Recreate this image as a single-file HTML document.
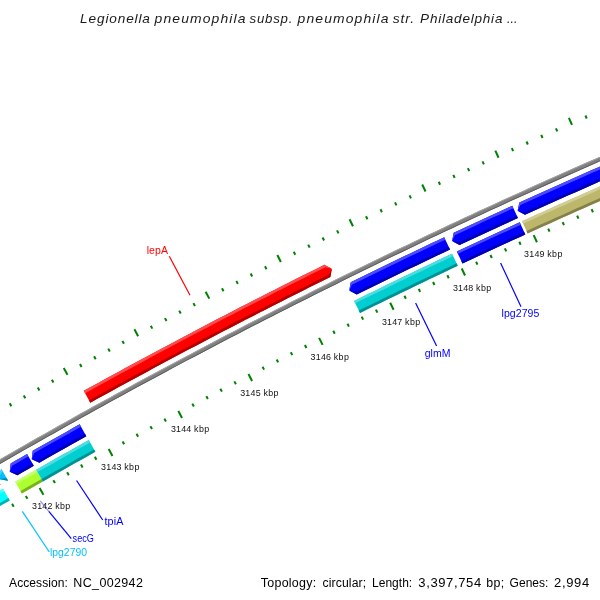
<!DOCTYPE html>
<html><head><meta charset="utf-8"><title>CGView</title>
<style>html,body{margin:0;padding:0;background:#fff}svg{display:block;will-change:transform}text{font-family:"Liberation Sans",sans-serif}</style>
</head><body>
<svg width="600" height="600" viewBox="0 0 600 600">
<rect width="600" height="600" fill="#fff"/>
<path d="M-31.04 477.17 L-24.14 473.15 L-17.23 469.13 L-10.32 465.12 L-3.40 461.12 L3.53 457.13 L10.46 453.16 L17.39 449.18 L24.33 445.22 L31.28 441.27 L38.23 437.33 L45.19 433.39 L52.15 429.47 L59.11 425.55 L66.09 421.65 L73.06 417.75 L80.05 413.86 L87.03 409.98 L94.03 406.12 L101.02 402.26 L108.03 398.41 L115.03 394.56 L122.05 390.73 L129.07 386.91 L136.09 383.10 L143.12 379.29 L150.15 375.50 L157.19 371.71 L164.23 367.93 L171.28 364.17 L178.33 360.41 L185.39 356.66 L192.45 352.92 L199.52 349.19 L206.59 345.47 L213.67 341.76 L220.75 338.06 L227.84 334.37 L234.93 330.69 L242.03 327.01 L249.13 323.35 L256.24 319.69 L263.35 316.05 L270.47 312.41 L277.59 308.79 L284.72 305.17 L291.85 301.56 L298.99 297.97 L306.13 294.38 L313.27 290.80 L320.42 287.23 L327.58 283.67 L334.74 280.12 L341.90 276.58 L349.07 273.05 L356.24 269.52 L363.42 266.01 L370.60 262.51 L377.79 259.02 L384.98 255.53 L392.18 252.06 L399.38 248.59 L406.59 245.14 L413.80 241.69 L421.01 238.25 L428.23 234.83 L435.46 231.41 L442.69 228.00 L449.92 224.60 L457.16 221.22 L464.40 217.84 L471.65 214.47 L478.90 211.11 L486.15 207.76 L493.41 204.42 L500.68 201.09 L507.95 197.77 L515.22 194.45 L522.50 191.15 L529.78 187.86 L537.06 184.58 L544.36 181.30 L551.65 178.04 L558.95 174.79 L566.25 171.54 L573.56 168.31 L580.87 165.08 L588.19 161.87 L595.51 158.66 L602.84 155.47 L604.51 159.32 L597.19 162.51 L589.88 165.72 L582.57 168.93 L575.26 172.15 L567.96 175.38 L560.66 178.63 L553.36 181.88 L546.07 185.14 L538.79 188.41 L531.51 191.69 L524.23 194.98 L516.96 198.28 L509.69 201.59 L502.43 204.91 L495.17 208.23 L487.91 211.57 L480.66 214.92 L473.41 218.28 L466.17 221.64 L458.94 225.02 L451.70 228.41 L444.47 231.80 L437.25 235.21 L430.03 238.62 L422.82 242.05 L415.61 245.48 L408.40 248.92 L401.20 252.38 L394.00 255.84 L386.81 259.31 L379.63 262.79 L372.44 266.28 L365.26 269.79 L358.09 273.30 L350.92 276.82 L343.76 280.34 L336.60 283.88 L329.44 287.43 L322.29 290.99 L315.15 294.56 L308.01 298.13 L300.87 301.72 L293.74 305.31 L286.62 308.92 L279.50 312.53 L272.38 316.16 L265.27 319.79 L258.16 323.43 L251.06 327.08 L243.96 330.74 L236.87 334.42 L229.78 338.10 L222.70 341.78 L215.62 345.48 L208.55 349.19 L201.48 352.91 L194.42 356.64 L187.36 360.37 L180.30 364.12 L173.26 367.87 L166.21 371.64 L159.17 375.41 L152.14 379.19 L145.11 382.99 L138.09 386.79 L131.07 390.60 L124.06 394.42 L117.05 398.25 L110.05 402.09 L103.05 405.93 L96.06 409.79 L89.07 413.66 L82.09 417.53 L75.11 421.42 L68.14 425.31 L61.17 429.22 L54.21 433.13 L47.25 437.05 L40.30 440.98 L33.35 444.92 L26.41 448.87 L19.48 452.83 L12.55 456.80 L5.62 460.78 L-1.30 464.76 L-8.21 468.76 L-15.12 472.76 L-22.03 476.78 L-28.93 480.80Z" fill="rgb(128,128,128)" />
<path d="M-31.04 477.17 L-24.14 473.15 L-17.23 469.13 L-10.32 465.12 L-3.40 461.12 L3.53 457.13 L10.46 453.16 L17.39 449.18 L24.33 445.22 L31.28 441.27 L38.23 437.33 L45.19 433.39 L52.15 429.47 L59.11 425.55 L66.09 421.65 L73.06 417.75 L80.05 413.86 L87.03 409.98 L94.03 406.12 L101.02 402.26 L108.03 398.41 L115.03 394.56 L122.05 390.73 L129.07 386.91 L136.09 383.10 L143.12 379.29 L150.15 375.50 L157.19 371.71 L164.23 367.93 L171.28 364.17 L178.33 360.41 L185.39 356.66 L192.45 352.92 L199.52 349.19 L206.59 345.47 L213.67 341.76 L220.75 338.06 L227.84 334.37 L234.93 330.69 L242.03 327.01 L249.13 323.35 L256.24 319.69 L263.35 316.05 L270.47 312.41 L277.59 308.79 L284.72 305.17 L291.85 301.56 L298.99 297.97 L306.13 294.38 L313.27 290.80 L320.42 287.23 L327.58 283.67 L334.74 280.12 L341.90 276.58 L349.07 273.05 L356.24 269.52 L363.42 266.01 L370.60 262.51 L377.79 259.02 L384.98 255.53 L392.18 252.06 L399.38 248.59 L406.59 245.14 L413.80 241.69 L421.01 238.25 L428.23 234.83 L435.46 231.41 L442.69 228.00 L449.92 224.60 L457.16 221.22 L464.40 217.84 L471.65 214.47 L478.90 211.11 L486.15 207.76 L493.41 204.42 L500.68 201.09 L507.95 197.77 L515.22 194.45 L522.50 191.15 L529.78 187.86 L537.06 184.58 L544.36 181.30 L551.65 178.04 L558.95 174.79 L566.25 171.54 L573.56 168.31 L580.87 165.08 L588.19 161.87 L595.51 158.66 L602.84 155.47 L603.17 156.24 L595.85 159.43 L588.53 162.64 L581.21 165.85 L573.90 169.08 L566.59 172.31 L559.29 175.56 L551.99 178.81 L544.70 182.07 L537.41 185.34 L530.12 188.63 L522.84 191.92 L515.57 195.22 L508.29 198.53 L501.03 201.85 L493.76 205.18 L486.50 208.52 L479.25 211.87 L472.00 215.23 L464.75 218.60 L457.51 221.98 L450.28 225.37 L443.04 228.76 L435.82 232.17 L428.59 235.59 L421.37 239.01 L414.16 242.45 L406.95 245.89 L399.75 249.35 L392.55 252.81 L385.35 256.29 L378.16 259.77 L370.97 263.26 L363.79 266.77 L356.61 270.28 L349.44 273.80 L342.27 277.33 L335.11 280.87 L327.95 284.42 L320.80 287.98 L313.65 291.55 L306.50 295.13 L299.36 298.72 L292.23 302.31 L285.10 305.92 L277.97 309.54 L270.85 313.16 L263.74 316.80 L256.63 320.44 L249.52 324.10 L242.42 327.76 L235.32 331.43 L228.23 335.11 L221.14 338.81 L214.06 342.51 L206.98 346.22 L199.91 349.94 L192.85 353.67 L185.78 357.40 L178.73 361.15 L171.67 364.91 L164.63 368.67 L157.58 372.45 L150.55 376.24 L143.52 380.03 L136.49 383.83 L129.47 387.65 L122.45 391.47 L115.44 395.30 L108.43 399.14 L101.43 402.99 L94.43 406.85 L87.44 410.72 L80.45 414.60 L73.47 418.48 L66.50 422.38 L59.53 426.29 L52.56 430.20 L45.60 434.13 L38.64 438.06 L31.69 442.00 L24.75 445.95 L17.81 449.91 L10.87 453.88 L3.95 457.86 L-2.98 461.85 L-9.90 465.85 L-16.81 469.86 L-23.72 473.87 L-30.62 477.90Z" fill="rgb(166,166,166)" />
<path d="M-29.35 480.07 L-22.45 476.05 L-15.55 472.04 L-8.63 468.03 L-1.72 464.03 L5.20 460.05 L12.13 456.07 L19.06 452.10 L26.00 448.14 L32.94 444.19 L39.89 440.25 L46.84 436.32 L53.80 432.40 L60.76 428.48 L67.73 424.58 L74.70 420.69 L81.68 416.80 L88.66 412.92 L95.65 409.06 L102.64 405.20 L109.64 401.35 L116.65 397.51 L123.66 393.68 L130.67 389.86 L137.69 386.05 L144.71 382.25 L151.74 378.45 L158.78 374.67 L165.82 370.90 L172.86 367.13 L179.91 363.38 L186.96 359.63 L194.02 355.89 L201.09 352.17 L208.16 348.45 L215.23 344.74 L222.31 341.04 L229.39 337.35 L236.48 333.67 L243.57 330.00 L250.67 326.34 L257.78 322.68 L264.88 319.04 L272.00 315.41 L279.11 311.78 L286.24 308.17 L293.36 304.56 L300.50 300.97 L307.63 297.38 L314.77 293.80 L321.92 290.24 L329.07 286.68 L336.23 283.13 L343.39 279.59 L350.55 276.06 L357.72 272.54 L364.90 269.03 L372.07 265.53 L379.26 262.04 L386.45 258.56 L393.64 255.08 L400.84 251.62 L408.04 248.17 L415.25 244.72 L422.46 241.29 L429.67 237.86 L436.89 234.45 L444.12 231.04 L451.35 227.65 L458.58 224.26 L465.82 220.88 L473.06 217.52 L480.31 214.16 L487.56 210.81 L494.82 207.47 L502.08 204.14 L509.34 200.82 L516.61 197.51 L523.88 194.21 L531.16 190.92 L538.44 187.64 L545.73 184.37 L553.02 181.11 L560.32 177.86 L567.62 174.62 L574.92 171.38 L582.23 168.16 L589.54 164.95 L596.86 161.74 L604.18 158.55 L604.51 159.32 L597.19 162.51 L589.88 165.72 L582.57 168.93 L575.26 172.15 L567.96 175.38 L560.66 178.63 L553.36 181.88 L546.07 185.14 L538.79 188.41 L531.51 191.69 L524.23 194.98 L516.96 198.28 L509.69 201.59 L502.43 204.91 L495.17 208.23 L487.91 211.57 L480.66 214.92 L473.41 218.28 L466.17 221.64 L458.94 225.02 L451.70 228.41 L444.47 231.80 L437.25 235.21 L430.03 238.62 L422.82 242.05 L415.61 245.48 L408.40 248.92 L401.20 252.38 L394.00 255.84 L386.81 259.31 L379.63 262.79 L372.44 266.28 L365.26 269.79 L358.09 273.30 L350.92 276.82 L343.76 280.34 L336.60 283.88 L329.44 287.43 L322.29 290.99 L315.15 294.56 L308.01 298.13 L300.87 301.72 L293.74 305.31 L286.62 308.92 L279.50 312.53 L272.38 316.16 L265.27 319.79 L258.16 323.43 L251.06 327.08 L243.96 330.74 L236.87 334.42 L229.78 338.10 L222.70 341.78 L215.62 345.48 L208.55 349.19 L201.48 352.91 L194.42 356.64 L187.36 360.37 L180.30 364.12 L173.26 367.87 L166.21 371.64 L159.17 375.41 L152.14 379.19 L145.11 382.99 L138.09 386.79 L131.07 390.60 L124.06 394.42 L117.05 398.25 L110.05 402.09 L103.05 405.93 L96.06 409.79 L89.07 413.66 L82.09 417.53 L75.11 421.42 L68.14 425.31 L61.17 429.22 L54.21 433.13 L47.25 437.05 L40.30 440.98 L33.35 444.92 L26.41 448.87 L19.48 452.83 L12.55 456.80 L5.62 460.78 L-1.30 464.76 L-8.21 468.76 L-15.12 472.76 L-22.03 476.78 L-28.93 480.80Z" fill="rgb(90,90,90)" />
<path d="M83.77 390.87 L90.77 387.01 L97.77 383.16 L104.77 379.32 L111.78 375.49 L118.79 371.66 L125.81 367.85 L132.84 364.05 L139.87 360.25 L146.90 356.46 L153.94 352.69 L160.98 348.92 L168.03 345.16 L175.09 341.41 L182.15 337.67 L189.21 333.94 L196.28 330.22 L203.35 326.51 L210.43 322.81 L217.52 319.11 L224.60 315.43 L231.70 311.75 L238.80 308.09 L245.90 304.43 L253.01 300.79 L260.12 297.15 L267.24 293.52 L274.36 289.91 L281.49 286.30 L288.62 282.70 L295.75 279.11 L302.90 275.53 L310.04 271.96 L317.19 268.39 L324.35 264.84 L331.84 268.67 L330.34 276.94 L323.20 280.48 L316.07 284.04 L308.94 287.60 L301.81 291.17 L294.69 294.75 L287.58 298.34 L280.47 301.95 L273.36 305.56 L266.26 309.17 L259.16 312.80 L252.07 316.44 L244.98 320.09 L237.90 323.75 L230.82 327.41 L223.75 331.09 L216.68 334.77 L209.62 338.47 L202.56 342.17 L195.51 345.88 L188.46 349.61 L181.42 353.34 L174.38 357.08 L167.34 360.83 L160.31 364.59 L153.29 368.35 L146.27 372.13 L139.26 375.92 L132.25 379.72 L125.25 383.52 L118.25 387.34 L111.25 391.16 L104.27 394.99 L97.28 398.84 L90.30 402.69Z" fill="rgb(255,0,0)" />
<path d="M83.77 390.87 L90.77 387.01 L97.77 383.16 L104.77 379.32 L111.78 375.49 L118.79 371.66 L125.81 367.85 L132.84 364.05 L139.87 360.25 L146.90 356.46 L153.94 352.69 L160.98 348.92 L168.03 345.16 L175.09 341.41 L182.15 337.67 L189.21 333.94 L196.28 330.22 L203.35 326.51 L210.43 322.81 L217.52 319.11 L224.60 315.43 L231.70 311.75 L238.80 308.09 L245.90 304.43 L253.01 300.79 L260.12 297.15 L267.24 293.52 L274.36 289.91 L281.49 286.30 L288.62 282.70 L295.75 279.11 L302.90 275.53 L310.04 271.96 L317.19 268.39 L324.35 264.84 L331.84 268.67 L325.55 267.26 L318.39 270.81 L311.25 274.37 L304.10 277.94 L296.97 281.52 L289.83 285.11 L282.70 288.71 L275.58 292.31 L268.46 295.93 L261.35 299.56 L254.24 303.19 L247.13 306.84 L240.03 310.49 L232.94 314.15 L225.85 317.83 L218.76 321.51 L211.68 325.20 L204.61 328.90 L197.54 332.61 L190.47 336.33 L183.41 340.06 L176.35 343.80 L169.30 347.54 L162.26 351.30 L155.21 355.07 L148.18 358.84 L141.15 362.63 L134.12 366.42 L127.10 370.22 L120.08 374.04 L113.07 377.86 L106.07 381.69 L99.07 385.53 L92.07 389.38 L85.08 393.24Z" fill="rgb(255,76,76)" />
<path d="M89.00 400.32 L95.98 396.47 L102.97 392.63 L109.96 388.79 L116.95 384.97 L123.96 381.15 L130.96 377.34 L137.97 373.54 L144.99 369.76 L152.01 365.98 L159.04 362.21 L166.07 358.45 L173.11 354.69 L180.15 350.95 L187.20 347.22 L194.25 343.49 L201.30 339.78 L208.37 336.08 L215.43 332.38 L222.50 328.69 L229.58 325.02 L236.66 321.35 L243.74 317.69 L250.83 314.04 L257.93 310.40 L265.03 306.77 L272.13 303.15 L279.24 299.54 L286.36 295.94 L293.48 292.34 L300.60 288.76 L307.73 285.18 L314.86 281.62 L322.00 278.07 L329.14 274.52 L331.84 268.67 L330.34 276.94 L323.20 280.48 L316.07 284.04 L308.94 287.60 L301.81 291.17 L294.69 294.75 L287.58 298.34 L280.47 301.95 L273.36 305.56 L266.26 309.17 L259.16 312.80 L252.07 316.44 L244.98 320.09 L237.90 323.75 L230.82 327.41 L223.75 331.09 L216.68 334.77 L209.62 338.47 L202.56 342.17 L195.51 345.88 L188.46 349.61 L181.42 353.34 L174.38 357.08 L167.34 360.83 L160.31 364.59 L153.29 368.35 L146.27 372.13 L139.26 375.92 L132.25 379.72 L125.25 383.52 L118.25 387.34 L111.25 391.16 L104.27 394.99 L97.28 398.84 L90.30 402.69Z" fill="rgb(178,0,0)" />
<path d="M1.24 468.84 L1.11 468.91 L-2.40 478.80 L7.91 480.69 L8.03 480.62Z" fill="rgb(0,191,255)" />
<path d="M1.24 468.84 L1.11 468.91 L-2.40 478.80 L2.47 471.27 L2.60 471.20Z" fill="rgb(76,210,255)" />
<path d="M6.67 478.26 L6.55 478.34 L-2.40 478.80 L7.91 480.69 L8.03 480.62Z" fill="rgb(0,134,178)" />
<path d="M27.06 454.03 L21.60 457.15 L16.14 460.27 L10.68 463.40 L9.75 471.79 L17.46 475.19 L22.90 472.07 L28.35 468.96 L33.79 465.84Z" fill="rgb(0,0,255)" />
<path d="M27.06 454.03 L21.60 457.15 L16.14 460.27 L10.68 463.40 L9.75 471.79 L12.04 465.76 L17.49 462.63 L22.95 459.51 L28.40 456.39Z" fill="rgb(76,76,255)" />
<path d="M32.45 463.48 L27.00 466.59 L21.55 469.71 L16.10 472.84 L9.75 471.79 L17.46 475.19 L22.90 472.07 L28.35 468.96 L33.79 465.84Z" fill="rgb(0,0,178)" />
<path d="M79.68 424.37 L72.95 428.12 L66.24 431.88 L59.52 435.65 L52.81 439.43 L46.11 443.21 L39.41 447.01 L32.71 450.81 L31.74 459.19 L39.44 462.63 L46.12 458.84 L52.80 455.05 L59.49 451.27 L66.19 447.50 L72.88 443.74 L79.59 439.99 L86.30 436.25Z" fill="rgb(0,0,255)" />
<path d="M79.68 424.37 L72.95 428.12 L66.24 431.88 L59.52 435.65 L52.81 439.43 L46.11 443.21 L39.41 447.01 L32.71 450.81 L31.74 459.19 L34.06 453.17 L40.75 449.37 L47.45 445.58 L54.15 441.79 L60.85 438.02 L67.57 434.25 L74.28 430.49 L81.00 426.74Z" fill="rgb(76,76,255)" />
<path d="M84.97 433.87 L78.26 437.62 L71.55 441.37 L64.85 445.13 L58.16 448.90 L51.46 452.68 L44.78 456.47 L38.09 460.27 L31.74 459.19 L39.44 462.63 L46.12 458.84 L52.80 455.05 L59.49 451.27 L66.19 447.50 L72.88 443.74 L79.59 439.99 L86.30 436.25Z" fill="rgb(0,0,178)" />
<path d="M444.21 237.23 L437.50 240.40 L430.81 243.57 L424.11 246.75 L417.42 249.94 L410.73 253.13 L404.05 256.34 L397.37 259.55 L390.69 262.77 L384.02 266.00 L377.35 269.23 L370.69 272.48 L364.03 275.73 L357.37 278.99 L350.72 282.26 L349.25 290.57 L356.73 294.47 L363.36 291.20 L370.00 287.95 L376.65 284.70 L383.30 281.47 L389.95 278.24 L396.61 275.01 L403.27 271.80 L409.93 268.60 L416.60 265.40 L423.27 262.21 L429.95 259.03 L436.63 255.86 L443.32 252.69 L450.00 249.54Z" fill="rgb(0,0,255)" />
<path d="M444.21 237.23 L437.50 240.40 L430.81 243.57 L424.11 246.75 L417.42 249.94 L410.73 253.13 L404.05 256.34 L397.37 259.55 L390.69 262.77 L384.02 266.00 L377.35 269.23 L370.69 272.48 L364.03 275.73 L357.37 278.99 L350.72 282.26 L349.25 290.57 L351.92 284.70 L358.57 281.44 L365.22 278.18 L371.88 274.92 L378.54 271.68 L385.21 268.45 L391.87 265.22 L398.55 262.00 L405.22 258.79 L411.91 255.58 L418.59 252.39 L425.28 249.20 L431.97 246.03 L438.67 242.86 L445.37 239.69Z" fill="rgb(76,76,255)" />
<path d="M448.85 247.08 L442.15 250.23 L435.47 253.40 L428.78 256.57 L422.10 259.76 L415.43 262.95 L408.76 266.14 L402.09 269.35 L395.42 272.56 L388.77 275.79 L382.11 279.02 L375.46 282.26 L368.81 285.51 L362.17 288.76 L355.53 292.03 L349.25 290.57 L356.73 294.47 L363.36 291.20 L370.00 287.95 L376.65 284.70 L383.30 281.47 L389.95 278.24 L396.61 275.01 L403.27 271.80 L409.93 268.60 L416.60 265.40 L423.27 262.21 L429.95 259.03 L436.63 255.86 L443.32 252.69 L450.00 249.54Z" fill="rgb(0,0,178)" />
<path d="M512.26 205.69 L505.74 208.67 L499.23 211.65 L492.71 214.65 L486.20 217.65 L479.70 220.66 L473.20 223.67 L466.70 226.70 L460.20 229.73 L453.71 232.77 L452.08 241.04 L459.49 245.08 L465.96 242.05 L472.44 239.02 L478.93 236.01 L485.41 233.00 L491.90 229.99 L498.40 227.00 L504.90 224.01 L511.40 221.04 L517.90 218.06Z" fill="rgb(0,0,255)" />
<path d="M512.26 205.69 L505.74 208.67 L499.23 211.65 L492.71 214.65 L486.20 217.65 L479.70 220.66 L473.20 223.67 L466.70 226.70 L460.20 229.73 L453.71 232.77 L452.08 241.04 L454.87 235.23 L461.35 232.19 L467.85 229.16 L474.34 226.14 L480.84 223.12 L487.34 220.12 L493.85 217.12 L500.36 214.13 L506.87 211.14 L513.39 208.16Z" fill="rgb(76,76,255)" />
<path d="M516.78 215.59 L510.27 218.56 L503.76 221.54 L497.26 224.53 L490.76 227.52 L484.27 230.53 L477.78 233.54 L471.29 236.56 L464.81 239.58 L458.33 242.62 L452.08 241.04 L459.49 245.08 L465.96 242.05 L472.44 239.02 L478.93 236.01 L485.41 233.00 L491.90 229.99 L498.40 227.00 L504.90 224.01 L511.40 221.04 L517.90 218.06Z" fill="rgb(0,0,178)" />
<path d="M606.43 163.72 L599.15 166.90 L591.87 170.08 L584.60 173.28 L577.33 176.48 L570.07 179.70 L562.81 182.92 L555.56 186.15 L548.31 189.40 L541.06 192.65 L533.82 195.91 L526.58 199.18 L519.35 202.46 L517.62 210.72 L524.98 214.85 L532.19 211.57 L539.41 208.31 L546.64 205.05 L553.87 201.81 L561.10 198.57 L568.34 195.35 L575.58 192.13 L582.83 188.92 L590.08 185.72 L597.34 182.54 L604.60 179.36 L611.86 176.19Z" fill="rgb(0,0,255)" />
<path d="M606.43 163.72 L599.15 166.90 L591.87 170.08 L584.60 173.28 L577.33 176.48 L570.07 179.70 L562.81 182.92 L555.56 186.15 L548.31 189.40 L541.06 192.65 L533.82 195.91 L526.58 199.18 L519.35 202.46 L517.62 210.72 L520.47 204.94 L527.70 201.66 L534.94 198.39 L542.18 195.13 L549.42 191.88 L556.67 188.64 L563.92 185.41 L571.17 182.18 L578.43 178.97 L585.70 175.77 L592.97 172.57 L600.24 169.39 L607.51 166.21Z" fill="rgb(76,76,255)" />
<path d="M610.77 173.70 L603.51 176.87 L596.24 180.05 L588.98 183.24 L581.73 186.43 L574.48 189.64 L567.23 192.86 L559.99 196.09 L552.76 199.33 L545.52 202.57 L538.29 205.83 L531.07 209.09 L523.85 212.37 L517.62 210.72 L524.98 214.85 L532.19 211.57 L539.41 208.31 L546.64 205.05 L553.87 201.81 L561.10 198.57 L568.34 195.35 L575.58 192.13 L582.83 188.92 L590.08 185.72 L597.34 182.54 L604.60 179.36 L611.86 176.19Z" fill="rgb(0,0,178)" />
<path d="M-17.33 500.66 L-10.55 496.71 L-3.76 492.76 L3.03 488.82 L9.74 500.42 L2.97 504.35 L-3.80 508.29 L-10.57 512.23Z" fill="rgb(0,255,255)" />
<path d="M-17.33 500.66 L-10.55 496.71 L-3.76 492.76 L3.03 488.82 L4.37 491.14 L-2.42 495.08 L-9.20 499.02 L-15.98 502.97Z" fill="rgb(76,255,255)" />
<path d="M-11.92 509.92 L-5.15 505.97 L1.62 502.03 L8.40 498.10 L9.74 500.42 L2.97 504.35 L-3.80 508.29 L-10.57 512.23Z" fill="rgb(0,178,178)" />
<path d="M15.16 481.82 L20.42 478.80 L25.68 475.78 L30.94 472.77 L36.21 469.76 L42.85 481.40 L37.59 484.40 L32.34 487.41 L27.09 490.42 L21.84 493.44Z" fill="rgb(173,255,47)" />
<path d="M15.16 481.82 L20.42 478.80 L25.68 475.78 L30.94 472.77 L36.21 469.76 L37.54 472.09 L32.27 475.10 L27.01 478.11 L21.75 481.12 L16.49 484.15Z" fill="rgb(198,255,109)" />
<path d="M20.51 491.11 L25.75 488.10 L31.01 485.08 L36.26 482.08 L41.52 479.07 L42.85 481.40 L37.59 484.40 L32.34 487.41 L27.09 490.42 L21.84 493.44Z" fill="rgb(121,178,33)" />
<path d="M36.21 469.76 L42.77 466.03 L49.33 462.30 L55.90 458.58 L62.47 454.87 L69.05 451.17 L75.63 447.47 L82.22 443.79 L88.81 440.11 L95.33 451.82 L88.76 455.49 L82.19 459.16 L75.62 462.85 L69.05 466.54 L62.50 470.25 L55.94 473.96 L49.39 477.67 L42.85 481.40Z" fill="rgb(0,206,209)" />
<path d="M36.21 469.76 L42.77 466.03 L49.33 462.30 L55.90 458.58 L62.47 454.87 L69.05 451.17 L75.63 447.47 L82.22 443.79 L88.81 440.11 L90.12 442.45 L83.53 446.13 L76.94 449.81 L70.37 453.51 L63.79 457.21 L57.22 460.91 L50.66 464.63 L44.09 468.36 L37.54 472.09Z" fill="rgb(76,221,223)" />
<path d="M41.52 479.07 L48.07 475.35 L54.62 471.62 L61.18 467.91 L67.74 464.21 L74.30 460.51 L80.88 456.83 L87.45 453.15 L94.03 449.48 L95.33 451.82 L88.76 455.49 L82.19 459.16 L75.62 462.85 L69.05 466.54 L62.50 470.25 L55.94 473.96 L49.39 477.67 L42.85 481.40Z" fill="rgb(0,144,146)" />
<path d="M354.08 300.90 L361.05 297.47 L368.02 294.04 L375.00 290.63 L381.98 287.22 L388.97 283.83 L395.96 280.44 L402.95 277.06 L409.95 273.69 L416.95 270.33 L423.96 266.98 L430.97 263.64 L437.99 260.30 L445.01 256.98 L452.04 253.66 L457.75 265.79 L450.74 269.09 L443.73 272.41 L436.73 275.74 L429.73 279.07 L422.74 282.42 L415.75 285.77 L408.77 289.13 L401.79 292.50 L394.82 295.88 L387.85 299.27 L380.88 302.67 L373.92 306.08 L366.96 309.49 L360.01 312.92Z" fill="rgb(0,206,209)" />
<path d="M354.08 300.90 L361.05 297.47 L368.02 294.04 L375.00 290.63 L381.98 287.22 L388.97 283.83 L395.96 280.44 L402.95 277.06 L409.95 273.69 L416.95 270.33 L423.96 266.98 L430.97 263.64 L437.99 260.30 L445.01 256.98 L452.04 253.66 L453.18 256.09 L446.16 259.40 L439.14 262.73 L432.13 266.06 L425.12 269.40 L418.11 272.75 L411.11 276.11 L404.11 279.47 L397.12 282.85 L390.14 286.24 L383.15 289.63 L376.17 293.04 L369.20 296.45 L362.23 299.87 L355.26 303.30Z" fill="rgb(76,221,223)" />
<path d="M358.82 310.51 L365.78 307.09 L372.74 303.67 L379.70 300.26 L386.67 296.86 L393.65 293.47 L400.62 290.09 L407.61 286.72 L414.59 283.35 L421.58 280.00 L428.58 276.65 L435.58 273.32 L442.58 269.99 L449.59 266.67 L456.61 263.36 L457.75 265.79 L450.74 269.09 L443.73 272.41 L436.73 275.74 L429.73 279.07 L422.74 282.42 L415.75 285.77 L408.77 289.13 L401.79 292.50 L394.82 295.88 L387.85 299.27 L380.88 302.67 L373.92 306.08 L366.96 309.49 L360.01 312.92Z" fill="rgb(0,144,146)" />
<path d="M456.79 251.43 L463.77 248.15 L470.75 244.89 L477.73 241.63 L484.72 238.39 L491.72 235.15 L498.72 231.92 L505.72 228.70 L512.73 225.49 L519.74 222.28 L525.30 234.47 L518.30 237.67 L511.31 240.87 L504.33 244.09 L497.34 247.31 L490.36 250.54 L483.39 253.78 L476.42 257.03 L469.45 260.29 L462.49 263.56Z" fill="rgb(0,0,255)" />
<path d="M456.79 251.43 L463.77 248.15 L470.75 244.89 L477.73 241.63 L484.72 238.39 L491.72 235.15 L498.72 231.92 L505.72 228.70 L512.73 225.49 L519.74 222.28 L520.85 224.72 L513.84 227.92 L506.84 231.13 L499.84 234.35 L492.84 237.58 L485.85 240.82 L478.87 244.06 L471.88 247.32 L464.90 250.58 L457.93 253.85Z" fill="rgb(76,76,255)" />
<path d="M461.35 261.13 L468.31 257.86 L475.28 254.60 L482.26 251.35 L489.24 248.11 L496.22 244.88 L503.20 241.65 L510.19 238.44 L517.19 235.23 L524.19 232.04 L525.30 234.47 L518.30 237.67 L511.31 240.87 L504.33 244.09 L497.34 247.31 L490.36 250.54 L483.39 253.78 L476.42 257.03 L469.45 260.29 L462.49 263.56Z" fill="rgb(0,0,178)" />
<path d="M522.06 221.23 L529.08 218.03 L536.11 214.85 L543.14 211.67 L550.18 208.50 L557.22 205.35 L564.27 202.20 L571.32 199.06 L578.37 195.93 L585.43 192.80 L592.49 189.69 L599.55 186.59 L606.62 183.49 L613.70 180.41 L619.05 192.69 L611.99 195.77 L604.93 198.86 L597.88 201.96 L590.84 205.06 L583.80 208.18 L576.76 211.30 L569.73 214.43 L562.70 217.58 L555.67 220.73 L548.65 223.89 L541.63 227.06 L534.62 230.23 L527.61 233.42Z" fill="rgb(189,183,107)" />
<path d="M522.06 221.23 L529.08 218.03 L536.11 214.85 L543.14 211.67 L550.18 208.50 L557.22 205.35 L564.27 202.20 L571.32 199.06 L578.37 195.93 L585.43 192.80 L592.49 189.69 L599.55 186.59 L606.62 183.49 L613.70 180.41 L614.77 182.86 L607.70 185.95 L600.63 189.04 L593.57 192.14 L586.51 195.26 L579.45 198.38 L572.40 201.51 L565.36 204.64 L558.32 207.79 L551.28 210.95 L544.24 214.11 L537.21 217.29 L530.19 220.47 L523.17 223.67Z" fill="rgb(209,205,151)" />
<path d="M526.50 230.98 L533.51 227.79 L540.53 224.61 L547.55 221.44 L554.57 218.28 L561.60 215.13 L568.63 211.99 L575.67 208.85 L582.71 205.73 L589.76 202.61 L596.81 199.50 L603.86 196.40 L610.91 193.32 L617.98 190.24 L619.05 192.69 L611.99 195.77 L604.93 198.86 L597.88 201.96 L590.84 205.06 L583.80 208.18 L576.76 211.30 L569.73 214.43 L562.70 217.58 L555.67 220.73 L548.65 223.89 L541.63 227.06 L534.62 230.23 L527.61 233.42Z" fill="rgb(132,128,75)" />
<line x1="-30.50" y1="430.24" x2="-32.16" y2="427.39" stroke="rgb(0,128,0)" stroke-width="2"/>
<line x1="12.07" y1="503.81" x2="13.72" y2="506.67" stroke="rgb(0,128,0)" stroke-width="2"/>
<line x1="-16.57" y1="422.20" x2="-18.21" y2="419.34" stroke="rgb(0,128,0)" stroke-width="2"/>
<line x1="25.81" y1="495.88" x2="27.46" y2="498.74" stroke="rgb(0,128,0)" stroke-width="2"/>
<line x1="-2.61" y1="414.20" x2="-6.48" y2="407.43" stroke="rgb(0,128,0)" stroke-width="2"/>
<line x1="39.58" y1="487.99" x2="43.45" y2="494.76" stroke="rgb(0,128,0)" stroke-width="2"/>
<line x1="11.37" y1="406.23" x2="9.74" y2="403.36" stroke="rgb(0,128,0)" stroke-width="2"/>
<line x1="53.36" y1="480.14" x2="54.99" y2="483.01" stroke="rgb(0,128,0)" stroke-width="2"/>
<line x1="25.37" y1="398.30" x2="23.75" y2="395.43" stroke="rgb(0,128,0)" stroke-width="2"/>
<line x1="67.16" y1="472.32" x2="68.79" y2="475.19" stroke="rgb(0,128,0)" stroke-width="2"/>
<line x1="39.39" y1="390.41" x2="37.78" y2="387.53" stroke="rgb(0,128,0)" stroke-width="2"/>
<line x1="80.99" y1="464.54" x2="82.60" y2="467.41" stroke="rgb(0,128,0)" stroke-width="2"/>
<line x1="53.44" y1="382.55" x2="51.83" y2="379.67" stroke="rgb(0,128,0)" stroke-width="2"/>
<line x1="94.83" y1="456.79" x2="96.44" y2="459.67" stroke="rgb(0,128,0)" stroke-width="2"/>
<line x1="67.50" y1="374.74" x2="63.72" y2="367.91" stroke="rgb(0,128,0)" stroke-width="2"/>
<line x1="108.70" y1="449.08" x2="112.48" y2="455.90" stroke="rgb(0,128,0)" stroke-width="2"/>
<line x1="81.58" y1="366.96" x2="79.99" y2="364.06" stroke="rgb(0,128,0)" stroke-width="2"/>
<line x1="122.59" y1="441.41" x2="124.18" y2="444.30" stroke="rgb(0,128,0)" stroke-width="2"/>
<line x1="95.69" y1="359.21" x2="94.10" y2="356.32" stroke="rgb(0,128,0)" stroke-width="2"/>
<line x1="136.49" y1="433.78" x2="138.08" y2="436.67" stroke="rgb(0,128,0)" stroke-width="2"/>
<line x1="109.81" y1="351.51" x2="108.23" y2="348.61" stroke="rgb(0,128,0)" stroke-width="2"/>
<line x1="150.42" y1="426.18" x2="152.00" y2="429.08" stroke="rgb(0,128,0)" stroke-width="2"/>
<line x1="123.96" y1="343.84" x2="122.39" y2="340.93" stroke="rgb(0,128,0)" stroke-width="2"/>
<line x1="164.37" y1="418.62" x2="165.94" y2="421.52" stroke="rgb(0,128,0)" stroke-width="2"/>
<line x1="138.12" y1="336.21" x2="134.43" y2="329.33" stroke="rgb(0,128,0)" stroke-width="2"/>
<line x1="178.34" y1="411.09" x2="182.03" y2="417.96" stroke="rgb(0,128,0)" stroke-width="2"/>
<line x1="152.31" y1="328.61" x2="150.75" y2="325.70" stroke="rgb(0,128,0)" stroke-width="2"/>
<line x1="192.32" y1="403.60" x2="193.88" y2="406.52" stroke="rgb(0,128,0)" stroke-width="2"/>
<line x1="166.51" y1="321.06" x2="164.97" y2="318.14" stroke="rgb(0,128,0)" stroke-width="2"/>
<line x1="206.33" y1="396.15" x2="207.87" y2="399.07" stroke="rgb(0,128,0)" stroke-width="2"/>
<line x1="180.74" y1="313.54" x2="179.20" y2="310.62" stroke="rgb(0,128,0)" stroke-width="2"/>
<line x1="220.36" y1="388.74" x2="221.89" y2="391.66" stroke="rgb(0,128,0)" stroke-width="2"/>
<line x1="194.98" y1="306.06" x2="193.45" y2="303.13" stroke="rgb(0,128,0)" stroke-width="2"/>
<line x1="234.40" y1="381.37" x2="235.93" y2="384.29" stroke="rgb(0,128,0)" stroke-width="2"/>
<line x1="209.25" y1="298.62" x2="205.65" y2="291.69" stroke="rgb(0,128,0)" stroke-width="2"/>
<line x1="248.47" y1="374.03" x2="252.07" y2="380.95" stroke="rgb(0,128,0)" stroke-width="2"/>
<line x1="223.53" y1="291.21" x2="222.02" y2="288.28" stroke="rgb(0,128,0)" stroke-width="2"/>
<line x1="262.55" y1="366.73" x2="264.07" y2="369.66" stroke="rgb(0,128,0)" stroke-width="2"/>
<line x1="237.84" y1="283.84" x2="236.33" y2="280.91" stroke="rgb(0,128,0)" stroke-width="2"/>
<line x1="276.66" y1="359.46" x2="278.16" y2="362.40" stroke="rgb(0,128,0)" stroke-width="2"/>
<line x1="252.16" y1="276.51" x2="250.66" y2="273.57" stroke="rgb(0,128,0)" stroke-width="2"/>
<line x1="290.78" y1="352.23" x2="292.28" y2="355.17" stroke="rgb(0,128,0)" stroke-width="2"/>
<line x1="266.50" y1="269.22" x2="265.01" y2="266.28" stroke="rgb(0,128,0)" stroke-width="2"/>
<line x1="304.92" y1="345.05" x2="306.41" y2="347.99" stroke="rgb(0,128,0)" stroke-width="2"/>
<line x1="280.87" y1="261.97" x2="277.36" y2="255.00" stroke="rgb(0,128,0)" stroke-width="2"/>
<line x1="319.08" y1="337.89" x2="322.59" y2="344.86" stroke="rgb(0,128,0)" stroke-width="2"/>
<line x1="295.25" y1="254.75" x2="293.77" y2="251.80" stroke="rgb(0,128,0)" stroke-width="2"/>
<line x1="333.26" y1="330.78" x2="334.74" y2="333.73" stroke="rgb(0,128,0)" stroke-width="2"/>
<line x1="309.65" y1="247.58" x2="308.18" y2="244.62" stroke="rgb(0,128,0)" stroke-width="2"/>
<line x1="347.46" y1="323.70" x2="348.93" y2="326.66" stroke="rgb(0,128,0)" stroke-width="2"/>
<line x1="324.07" y1="240.44" x2="322.61" y2="237.48" stroke="rgb(0,128,0)" stroke-width="2"/>
<line x1="361.68" y1="316.66" x2="363.14" y2="319.62" stroke="rgb(0,128,0)" stroke-width="2"/>
<line x1="338.51" y1="233.34" x2="337.05" y2="230.37" stroke="rgb(0,128,0)" stroke-width="2"/>
<line x1="375.92" y1="309.66" x2="377.37" y2="312.63" stroke="rgb(0,128,0)" stroke-width="2"/>
<line x1="352.96" y1="226.28" x2="349.55" y2="219.26" stroke="rgb(0,128,0)" stroke-width="2"/>
<line x1="390.17" y1="302.70" x2="393.59" y2="309.71" stroke="rgb(0,128,0)" stroke-width="2"/>
<line x1="367.44" y1="219.25" x2="366.00" y2="216.28" stroke="rgb(0,128,0)" stroke-width="2"/>
<line x1="404.44" y1="295.77" x2="405.88" y2="298.74" stroke="rgb(0,128,0)" stroke-width="2"/>
<line x1="381.93" y1="212.27" x2="380.50" y2="209.29" stroke="rgb(0,128,0)" stroke-width="2"/>
<line x1="418.74" y1="288.88" x2="420.16" y2="291.86" stroke="rgb(0,128,0)" stroke-width="2"/>
<line x1="396.45" y1="205.32" x2="395.03" y2="202.34" stroke="rgb(0,128,0)" stroke-width="2"/>
<line x1="433.05" y1="282.03" x2="434.47" y2="285.01" stroke="rgb(0,128,0)" stroke-width="2"/>
<line x1="410.98" y1="198.41" x2="409.56" y2="195.43" stroke="rgb(0,128,0)" stroke-width="2"/>
<line x1="447.37" y1="275.22" x2="448.79" y2="278.20" stroke="rgb(0,128,0)" stroke-width="2"/>
<line x1="425.53" y1="191.54" x2="422.21" y2="184.48" stroke="rgb(0,128,0)" stroke-width="2"/>
<line x1="461.72" y1="268.45" x2="465.04" y2="275.51" stroke="rgb(0,128,0)" stroke-width="2"/>
<line x1="440.09" y1="184.71" x2="438.70" y2="181.72" stroke="rgb(0,128,0)" stroke-width="2"/>
<line x1="476.08" y1="261.71" x2="477.48" y2="264.70" stroke="rgb(0,128,0)" stroke-width="2"/>
<line x1="454.68" y1="177.91" x2="453.29" y2="174.92" stroke="rgb(0,128,0)" stroke-width="2"/>
<line x1="490.46" y1="255.01" x2="491.85" y2="258.01" stroke="rgb(0,128,0)" stroke-width="2"/>
<line x1="469.28" y1="171.16" x2="467.90" y2="168.16" stroke="rgb(0,128,0)" stroke-width="2"/>
<line x1="504.86" y1="248.35" x2="506.25" y2="251.35" stroke="rgb(0,128,0)" stroke-width="2"/>
<line x1="483.90" y1="164.44" x2="482.53" y2="161.44" stroke="rgb(0,128,0)" stroke-width="2"/>
<line x1="519.28" y1="241.73" x2="520.65" y2="244.73" stroke="rgb(0,128,0)" stroke-width="2"/>
<line x1="498.54" y1="157.77" x2="495.32" y2="150.67" stroke="rgb(0,128,0)" stroke-width="2"/>
<line x1="533.71" y1="235.15" x2="536.94" y2="242.25" stroke="rgb(0,128,0)" stroke-width="2"/>
<line x1="513.20" y1="151.13" x2="511.84" y2="148.12" stroke="rgb(0,128,0)" stroke-width="2"/>
<line x1="548.17" y1="228.60" x2="549.52" y2="231.61" stroke="rgb(0,128,0)" stroke-width="2"/>
<line x1="527.87" y1="144.53" x2="526.53" y2="141.52" stroke="rgb(0,128,0)" stroke-width="2"/>
<line x1="562.64" y1="222.10" x2="563.99" y2="225.11" stroke="rgb(0,128,0)" stroke-width="2"/>
<line x1="542.57" y1="137.97" x2="541.23" y2="134.95" stroke="rgb(0,128,0)" stroke-width="2"/>
<line x1="577.12" y1="215.63" x2="578.46" y2="218.64" stroke="rgb(0,128,0)" stroke-width="2"/>
<line x1="557.28" y1="131.45" x2="555.94" y2="128.43" stroke="rgb(0,128,0)" stroke-width="2"/>
<line x1="591.62" y1="209.20" x2="592.96" y2="212.22" stroke="rgb(0,128,0)" stroke-width="2"/>
<line x1="572.00" y1="124.96" x2="568.87" y2="117.82" stroke="rgb(0,128,0)" stroke-width="2"/>
<line x1="606.15" y1="202.81" x2="609.28" y2="209.95" stroke="rgb(0,128,0)" stroke-width="2"/>
<line x1="586.75" y1="118.52" x2="585.43" y2="115.49" stroke="rgb(0,128,0)" stroke-width="2"/>
<line x1="620.68" y1="196.45" x2="622.00" y2="199.48" stroke="rgb(0,128,0)" stroke-width="2"/>
<line x1="169.30" y1="256.30" x2="190.00" y2="295.30" stroke="rgb(255,0,0)" stroke-width="1.2"/>
<line x1="415.60" y1="303.00" x2="436.60" y2="346.00" stroke="rgb(0,0,255)" stroke-width="1.2"/>
<line x1="500.60" y1="263.00" x2="521.00" y2="306.70" stroke="rgb(0,0,255)" stroke-width="1.2"/>
<line x1="76.55" y1="480.50" x2="102.70" y2="520.00" stroke="rgb(0,0,255)" stroke-width="1.2"/>
<line x1="40.30" y1="501.00" x2="48.80" y2="511.30" stroke="rgb(150,150,255)" stroke-width="1.2"/>
<line x1="48.80" y1="511.30" x2="71.30" y2="538.60" stroke="rgb(0,0,255)" stroke-width="1.2"/>
<line x1="22.30" y1="511.40" x2="49.30" y2="552.00" stroke="rgb(0,191,255)" stroke-width="1.2"/>
<rect x="0" y="484" width="1" height="1" fill="rgb(170,170,255)"/>
<text transform="translate(32.00,508.60) scale(1.0333,1)" font-size="8.6" fill="#111" textLength="19.74" lengthAdjust="spacing">3142</text>
<text transform="translate(55.20,508.60) scale(1.0586,1)" font-size="8.4" fill="#111" textLength="14.26" lengthAdjust="spacing">kbp</text>
<text transform="translate(101.10,469.80) scale(1.0333,1)" font-size="8.6" fill="#111" textLength="19.74" lengthAdjust="spacing">3143</text>
<text transform="translate(124.30,469.80) scale(1.0586,1)" font-size="8.4" fill="#111" textLength="14.26" lengthAdjust="spacing">kbp</text>
<text transform="translate(170.90,431.60) scale(1.0333,1)" font-size="8.6" fill="#111" textLength="19.74" lengthAdjust="spacing">3144</text>
<text transform="translate(194.10,431.60) scale(1.0586,1)" font-size="8.4" fill="#111" textLength="14.26" lengthAdjust="spacing">kbp</text>
<text transform="translate(240.20,395.60) scale(1.0333,1)" font-size="8.6" fill="#111" textLength="19.74" lengthAdjust="spacing">3145</text>
<text transform="translate(263.40,395.60) scale(1.0586,1)" font-size="8.4" fill="#111" textLength="14.26" lengthAdjust="spacing">kbp</text>
<text transform="translate(310.60,360.00) scale(1.0333,1)" font-size="8.6" fill="#111" textLength="19.74" lengthAdjust="spacing">3146</text>
<text transform="translate(333.80,360.00) scale(1.0586,1)" font-size="8.4" fill="#111" textLength="14.26" lengthAdjust="spacing">kbp</text>
<text transform="translate(381.90,325.00) scale(1.0333,1)" font-size="8.6" fill="#111" textLength="19.74" lengthAdjust="spacing">3147</text>
<text transform="translate(405.10,325.00) scale(1.0586,1)" font-size="8.4" fill="#111" textLength="14.26" lengthAdjust="spacing">kbp</text>
<text transform="translate(452.90,290.70) scale(1.0333,1)" font-size="8.6" fill="#111" textLength="19.74" lengthAdjust="spacing">3148</text>
<text transform="translate(476.10,290.70) scale(1.0586,1)" font-size="8.4" fill="#111" textLength="14.26" lengthAdjust="spacing">kbp</text>
<text transform="translate(524.10,256.80) scale(1.0333,1)" font-size="8.6" fill="#111" textLength="19.74" lengthAdjust="spacing">3149</text>
<text transform="translate(547.30,256.80) scale(1.0586,1)" font-size="8.4" fill="#111" textLength="14.26" lengthAdjust="spacing">kbp</text>
<text transform="translate(146.70,254.30) scale(1.0068,1)" font-size="10.5" fill="rgb(255,0,0)" textLength="21.16" lengthAdjust="spacing">lepA</text>
<text transform="translate(424.70,356.70) scale(1.0005,1)" font-size="10.5" fill="rgb(0,0,255)" textLength="25.69" lengthAdjust="spacing">glmM</text>
<text transform="translate(501.60,316.70) scale(1.0043,1)" font-size="10.5" fill="rgb(0,0,255)" textLength="37.54" lengthAdjust="spacing">lpg2795</text>
<text transform="translate(104.40,524.70) scale(1.0306,1)" font-size="10.5" fill="rgb(0,0,255)" textLength="18.63" lengthAdjust="spacing">tpiA</text>
<text transform="translate(72.60,541.90) scale(0.8729,1)" font-size="10.5" fill="rgb(0,0,255)" textLength="24.52" lengthAdjust="spacing">secG</text>
<text transform="translate(50.00,555.70) scale(0.9900,1)" font-size="10.5" fill="rgb(0,191,255)" textLength="37.38" lengthAdjust="spacing">lpg2790</text>
<text transform="translate(80.10,23.00) scale(1.1378,1)" font-size="12" fill="#1a1a1a" textLength="61.35" lengthAdjust="spacing" font-style="italic">Legionella</text>
<text transform="translate(154.60,23.00) scale(1.1607,1)" font-size="12" fill="#1a1a1a" textLength="78.23" lengthAdjust="spacing" font-style="italic">pneumophila</text>
<text transform="translate(249.60,23.00) scale(1.1052,1)" font-size="12" fill="#1a1a1a" textLength="38.73" lengthAdjust="spacing" font-style="italic">subsp.</text>
<text transform="translate(297.60,23.00) scale(1.1607,1)" font-size="12" fill="#1a1a1a" textLength="78.23" lengthAdjust="spacing" font-style="italic">pneumophila</text>
<text transform="translate(392.85,23.00) scale(1.1566,1)" font-size="12" fill="#1a1a1a" textLength="18.42" lengthAdjust="spacing" font-style="italic">str.</text>
<text transform="translate(420.10,23.00) scale(1.1293,1)" font-size="12" fill="#1a1a1a" textLength="72.88" lengthAdjust="spacing" font-style="italic">Philadelphia</text>
<text transform="translate(507.10,23.00) scale(1.0142,1)" font-size="12" fill="#1a1a1a" textLength="10.16" lengthAdjust="spacing" font-style="italic">...</text>
<text transform="translate(9.10,586.70) scale(1.0066,1)" font-size="12" fill="#000" textLength="58.41" lengthAdjust="spacing">Accession:</text>
<text transform="translate(73.35,586.70) scale(1.0428,1)" font-size="12" fill="#000" textLength="66.69" lengthAdjust="spacing">NC_002942</text>
<text transform="translate(260.85,586.70) scale(1.0382,1)" font-size="12" fill="#000" textLength="53.27" lengthAdjust="spacing">Topology:</text>
<text transform="translate(322.60,586.70) scale(1.0183,1)" font-size="12" fill="#000" textLength="42.77" lengthAdjust="spacing">circular;</text>
<text transform="translate(372.10,586.70) scale(1.0000,1)" font-size="12" fill="#000" textLength="40.05" lengthAdjust="spacing">Length:</text>
<text transform="translate(418.35,586.70) scale(1.0881,1)" font-size="12" fill="#000" textLength="57.71" lengthAdjust="spacing">3,397,754</text>
<text transform="translate(486.35,586.70) scale(1.0333,1)" font-size="12" fill="#000" textLength="17.23" lengthAdjust="spacing">bp;</text>
<text transform="translate(509.60,586.70) scale(1.0013,1)" font-size="12" fill="#000" textLength="38.75" lengthAdjust="spacing">Genes:</text>
<text transform="translate(554.10,586.70) scale(1.0836,1)" font-size="12" fill="#000" textLength="32.35" lengthAdjust="spacing">2,994</text>
</svg>
</body></html>
